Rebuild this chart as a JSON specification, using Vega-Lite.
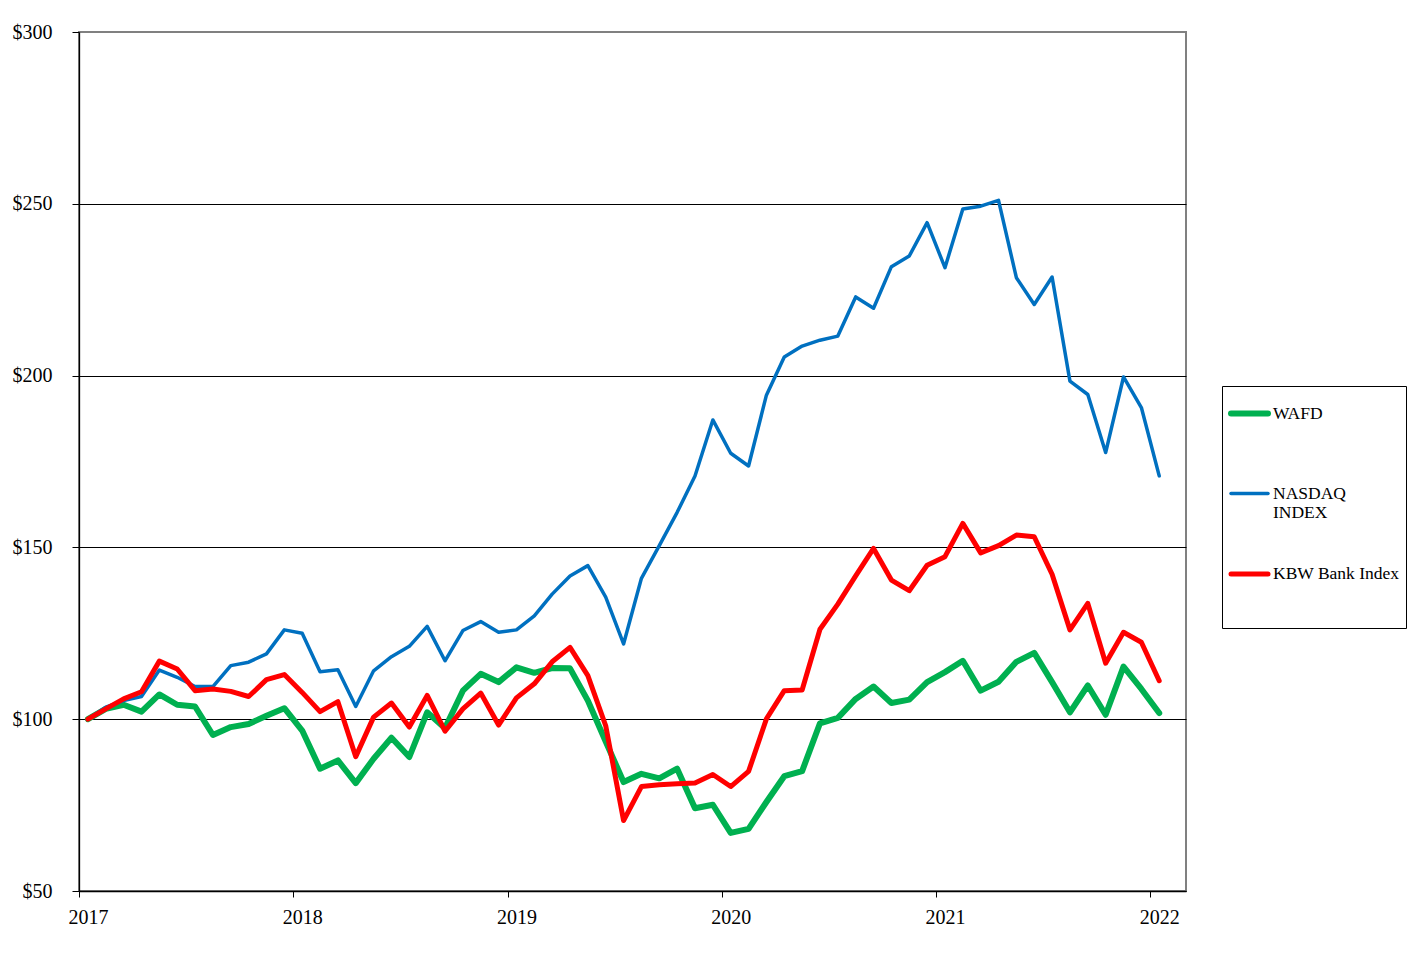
{
  "$schema": "https://vega.github.io/schema/vega-lite/v6.json",
  "width": 1107,
  "height": 859,
  "autosize": "none",
  "padding": {"left": 79, "top": 32, "right": 222, "bottom": 65},
  "background": "#ffffff",
  "config": {
    "font": "Liberation Serif",
    "view": {"stroke": "#808080", "strokeWidth": 2}
  },
  "data": {
    "values": [
      {"m": 0, "WAFD": 100, "NASDAQ INDEX": 100, "KBW Bank Index": 100},
      {"m": 1, "WAFD": 103, "NASDAQ INDEX": 103.5, "KBW Bank Index": 103},
      {"m": 2, "WAFD": 104.2, "NASDAQ INDEX": 105.4, "KBW Bank Index": 105.9},
      {"m": 3, "WAFD": 102.2, "NASDAQ INDEX": 106.6, "KBW Bank Index": 108},
      {"m": 4, "WAFD": 107.2, "NASDAQ INDEX": 114.3, "KBW Bank Index": 116.9},
      {"m": 5, "WAFD": 104.2, "NASDAQ INDEX": 112.2, "KBW Bank Index": 114.6},
      {"m": 6, "WAFD": 103.7, "NASDAQ INDEX": 109.5, "KBW Bank Index": 108.3},
      {"m": 7, "WAFD": 95.4, "NASDAQ INDEX": 109.5, "KBW Bank Index": 108.8},
      {"m": 8, "WAFD": 97.7, "NASDAQ INDEX": 115.6, "KBW Bank Index": 108.1},
      {"m": 9, "WAFD": 98.6, "NASDAQ INDEX": 116.6, "KBW Bank Index": 106.6},
      {"m": 10, "WAFD": 101, "NASDAQ INDEX": 119, "KBW Bank Index": 111.5},
      {"m": 11, "WAFD": 103.2, "NASDAQ INDEX": 126, "KBW Bank Index": 113},
      {"m": 12, "WAFD": 96.7, "NASDAQ INDEX": 125, "KBW Bank Index": 107.8},
      {"m": 13, "WAFD": 85.6, "NASDAQ INDEX": 113.8, "KBW Bank Index": 102.2},
      {"m": 14, "WAFD": 88, "NASDAQ INDEX": 114.4, "KBW Bank Index": 105.1},
      {"m": 15, "WAFD": 81.4, "NASDAQ INDEX": 103.7, "KBW Bank Index": 89.1},
      {"m": 16, "WAFD": 88.5, "NASDAQ INDEX": 114.1, "KBW Bank Index": 100.6},
      {"m": 17, "WAFD": 94.6, "NASDAQ INDEX": 118.2, "KBW Bank Index": 104.7},
      {"m": 18, "WAFD": 89, "NASDAQ INDEX": 121.2, "KBW Bank Index": 97.7},
      {"m": 19, "WAFD": 102, "NASDAQ INDEX": 127, "KBW Bank Index": 106.9},
      {"m": 20, "WAFD": 97.4, "NASDAQ INDEX": 117, "KBW Bank Index": 96.5},
      {"m": 21, "WAFD": 108.3, "NASDAQ INDEX": 125.8, "KBW Bank Index": 103},
      {"m": 22, "WAFD": 113.2, "NASDAQ INDEX": 128.4, "KBW Bank Index": 107.6},
      {"m": 23, "WAFD": 110.8, "NASDAQ INDEX": 125.3, "KBW Bank Index": 98.3},
      {"m": 24, "WAFD": 115.1, "NASDAQ INDEX": 126, "KBW Bank Index": 106.2},
      {"m": 25, "WAFD": 113.5, "NASDAQ INDEX": 130.1, "KBW Bank Index": 110.3},
      {"m": 26, "WAFD": 114.9, "NASDAQ INDEX": 136.4, "KBW Bank Index": 116.7},
      {"m": 27, "WAFD": 114.8, "NASDAQ INDEX": 141.7, "KBW Bank Index": 120.9},
      {"m": 28, "WAFD": 105.4, "NASDAQ INDEX": 144.7, "KBW Bank Index": 112.7},
      {"m": 29, "WAFD": 93.5, "NASDAQ INDEX": 135.5, "KBW Bank Index": 98.1},
      {"m": 30, "WAFD": 81.7, "NASDAQ INDEX": 121.9, "KBW Bank Index": 70.5},
      {"m": 31, "WAFD": 84.1, "NASDAQ INDEX": 141, "KBW Bank Index": 80.4},
      {"m": 32, "WAFD": 82.8, "NASDAQ INDEX": 150.5, "KBW Bank Index": 80.9},
      {"m": 33, "WAFD": 85.6, "NASDAQ INDEX": 160.2, "KBW Bank Index": 81.2},
      {"m": 34, "WAFD": 74.1, "NASDAQ INDEX": 170.8, "KBW Bank Index": 81.4},
      {"m": 35, "WAFD": 75.1, "NASDAQ INDEX": 187.1, "KBW Bank Index": 83.9},
      {"m": 36, "WAFD": 66.9, "NASDAQ INDEX": 177.4, "KBW Bank Index": 80.4},
      {"m": 37, "WAFD": 68.1, "NASDAQ INDEX": 173.7, "KBW Bank Index": 84.8},
      {"m": 38, "WAFD": 75.9, "NASDAQ INDEX": 194.3, "KBW Bank Index": 100.1},
      {"m": 39, "WAFD": 83.4, "NASDAQ INDEX": 205.4, "KBW Bank Index": 108.3},
      {"m": 40, "WAFD": 84.9, "NASDAQ INDEX": 208.6, "KBW Bank Index": 108.5},
      {"m": 41, "WAFD": 98.8, "NASDAQ INDEX": 210.3, "KBW Bank Index": 126.2},
      {"m": 42, "WAFD": 100.4, "NASDAQ INDEX": 211.5, "KBW Bank Index": 133.5},
      {"m": 43, "WAFD": 105.9, "NASDAQ INDEX": 222.9, "KBW Bank Index": 141.7},
      {"m": 44, "WAFD": 109.5, "NASDAQ INDEX": 219.6, "KBW Bank Index": 149.7},
      {"m": 45, "WAFD": 104.7, "NASDAQ INDEX": 231.7, "KBW Bank Index": 140.5},
      {"m": 46, "WAFD": 105.7, "NASDAQ INDEX": 234.8, "KBW Bank Index": 137.4},
      {"m": 47, "WAFD": 110.8, "NASDAQ INDEX": 244.5, "KBW Bank Index": 144.8},
      {"m": 48, "WAFD": 113.7, "NASDAQ INDEX": 231.4, "KBW Bank Index": 147.3},
      {"m": 49, "WAFD": 117, "NASDAQ INDEX": 248.5, "KBW Bank Index": 157},
      {"m": 50, "WAFD": 108.3, "NASDAQ INDEX": 249.3, "KBW Bank Index": 148.4},
      {"m": 51, "WAFD": 110.9, "NASDAQ INDEX": 251, "KBW Bank Index": 150.5},
      {"m": 52, "WAFD": 116.7, "NASDAQ INDEX": 228.5, "KBW Bank Index": 153.6},
      {"m": 53, "WAFD": 119.3, "NASDAQ INDEX": 220.7, "KBW Bank Index": 153.1},
      {"m": 54, "WAFD": 110.8, "NASDAQ INDEX": 228.7, "KBW Bank Index": 142.2},
      {"m": 55, "WAFD": 102, "NASDAQ INDEX": 198.4, "KBW Bank Index": 126},
      {"m": 56, "WAFD": 109.8, "NASDAQ INDEX": 194.5, "KBW Bank Index": 133.7},
      {"m": 57, "WAFD": 101.3, "NASDAQ INDEX": 177.6, "KBW Bank Index": 116.3},
      {"m": 58, "WAFD": 115.3, "NASDAQ INDEX": 199.6, "KBW Bank Index": 125.3},
      {"m": 59, "WAFD": 108.8, "NASDAQ INDEX": 190.7, "KBW Bank Index": 122.4},
      {"m": 60, "WAFD": 101.8, "NASDAQ INDEX": 170.8, "KBW Bank Index": 111.2}
    ]
  },
  "transform": [
    {"fold": ["WAFD", "NASDAQ INDEX", "KBW Bank Index"], "as": ["series", "value"]}
  ],
  "mark": {"type": "line", "strokeJoin": "round", "strokeCap": "round"},
  "encoding": {
    "x": {
      "field": "m",
      "type": "quantitative",
      "scale": {"domain": [-0.5, 61.5], "nice": false, "zero": false},
      "axis": {
        "title": null,
        "grid": false,
        "values": [-0.5, 11.5, 23.5, 35.5, 47.5, 59.5],
        "labelExpr": "format(2017 + (datum.value + 0.5) / 12, 'd')",
        "labelOffset": 8.93,
        "labelFlush": false,
        "labelFontSize": 20,
        "labelColor": "#000000",
        "labelPadding": 10,
        "tickSize": 6,
        "tickColor": "#000000",
        "domainColor": "#000000",
        "domainWidth": 1.3
      }
    },
    "y": {
      "field": "value",
      "type": "quantitative",
      "scale": {"domain": [50, 300], "nice": false, "zero": false},
      "axis": {
        "title": null,
        "values": [50, 100, 150, 200, 250, 300],
        "format": "$.0f",
        "grid": true,
        "gridColor": {"condition": {"test": "datum.value == 300", "value": "#808080"}, "value": "#000000"},
        "gridWidth": 1,
        "labelFlush": false,
        "labelFontSize": 20,
        "labelColor": "#000000",
        "labelPadding": 20,
        "tickSize": 7,
        "tickColor": "#000000",
        "domainColor": "#000000",
        "domainWidth": 1.3
      }
    },
    "color": {
      "field": "series",
      "type": "nominal",
      "scale": {
        "domain": ["WAFD", "NASDAQ INDEX", "KBW Bank Index"],
        "range": ["#00B050", "#0070C0", "#FF0000"]
      },
      "legend": {
        "title": null,
        "orient": "none",
        "legendX": 1143,
        "legendY": 354,
        "padding": 6,
        "strokeColor": "#000000",
        "fillColor": "#ffffff",
        "symbolType": "stroke",
        "symbolSize": 1369,
        "labelFontSize": 17.5,
        "labelColor": "#000000",
        "labelOffset": 2,
        "labelLimit": 300,
        "rowPadding": 31,
        "labelExpr": "datum.label == 'NASDAQ INDEX' ? ['NASDAQ', 'INDEX'] : datum.label == 'WAFD' ? ['WAFD', ''] : [datum.label, '', '']",
        "encode": {
          "symbols": {
            "update": {
              "strokeWidth": {"signal": "datum.value == 'NASDAQ INDEX' ? 3.5 : 5"},
              "strokeCap": {"value": "round"}
            }
          }
        }
      }
    },
    "strokeWidth": {
      "field": "series",
      "type": "nominal",
      "scale": {
        "type": "ordinal",
        "domain": ["WAFD", "NASDAQ INDEX", "KBW Bank Index"],
        "range": [6, 3.5, 5]
      },
      "legend": null
    }
  }
}
